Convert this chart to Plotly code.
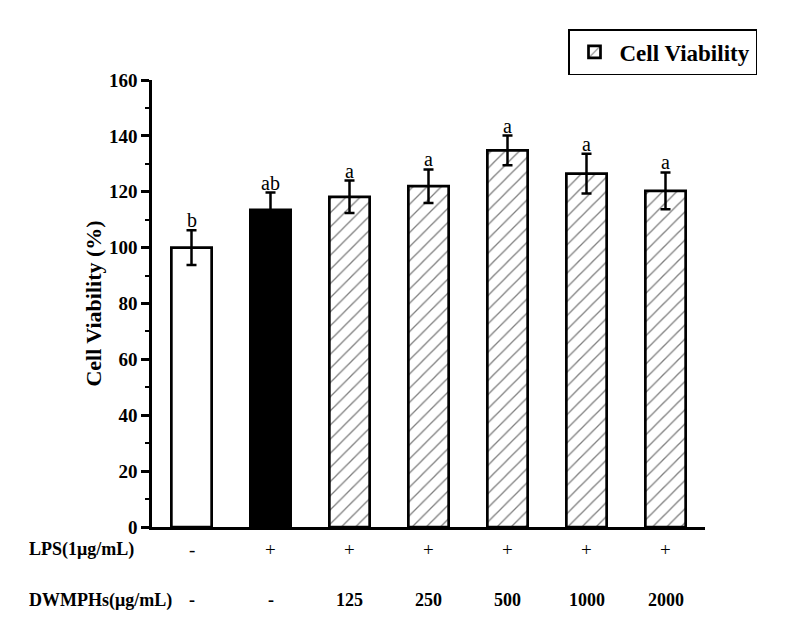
import plotly.graph_objects as go

# ---- data ----
groups = ["Control", "LPS", "125", "250", "500", "1000", "2000"]
viability = [100.0, 113.5, 118.2, 122.0, 134.8, 126.5, 120.3]
errors = [6.2, 6.2, 5.8, 6.0, 5.3, 7.1, 6.6]
sig_letters = ["b", "ab", "a", "a", "a", "a", "a"]
lps_labels = ["-", "+", "+", "+", "+", "+", "+"]
dose_labels = ["-", "-", "125", "250", "500", "1000", "2000"]
series_name = "Cell Viability"
y_ticks = [0, 20, 40, 60, 80, 100, 120, 140, 160]

idx = list(range(len(groups)))
SERIF = "Liberation Serif"

fig = go.Figure()

err_style = dict(type="data", visible=True, color="black", thickness=2.5, width=5)
line_style = dict(color="black", width=2.7)

fig.add_trace(go.Bar(
    x=idx[0:1], y=viability[0:1],
    error_y=dict(array=errors[0:1], **err_style),
    marker=dict(color="white", line=line_style),
    width=0.51, showlegend=False, name="Control"))
fig.add_trace(go.Bar(
    x=idx[1:2], y=viability[1:2],
    error_y=dict(array=errors[1:2], **err_style),
    marker=dict(color="black", line=line_style),
    width=0.51, showlegend=False, name="LPS"))
fig.add_trace(go.Bar(
    x=idx[2:], y=viability[2:],
    error_y=dict(array=errors[2:], **err_style),
    marker=dict(color="white", line=line_style,
                pattern=dict(shape="/", fgcolor="black", bgcolor="white",
                             size=10, solidity=0.13)),
    width=0.51, showlegend=True, name=series_name))

PLOT_L, PLOT_R, PLOT_T, PLOT_B = 152, 705, 80, 527
def py_to_paper(py):
    return (PLOT_B - py) / (PLOT_B - PLOT_T)
def px_to_paper(px):
    return (px - PLOT_L) / (PLOT_R - PLOT_L)

annotations = []
for i, (v, e, s) in enumerate(zip(viability, errors, sig_letters)):
    annotations.append(dict(x=i, y=v + e, xref="x", yref="y", text=s,
                            showarrow=False, yanchor="bottom", yshift=-3,
                            font=dict(family=SERIF, size=20, color="black")))
for i, t in enumerate(lps_labels):
    annotations.append(dict(x=i, y=py_to_paper(549), xref="x", yref="paper", text=t,
                            showarrow=False, yanchor="middle",
                            font=dict(family=SERIF, size=19, color="black")))
for i, t in enumerate(dose_labels):
    annotations.append(dict(x=i, y=py_to_paper(600), xref="x", yref="paper", text="<b>" + t + "</b>",
                            showarrow=False, yanchor="middle",
                            font=dict(family=SERIF, size=18, color="black")))
annotations.append(dict(x=px_to_paper(27), y=py_to_paper(549), xref="paper", yref="paper",
                        text="<b>LPS(1μg/mL)</b>", showarrow=False, xanchor="left", yanchor="middle",
                        font=dict(family=SERIF, size=18, color="black")))
annotations.append(dict(x=px_to_paper(27), y=py_to_paper(600), xref="paper", yref="paper",
                        text="<b>DWMPHs(μg/mL)</b>", showarrow=False, xanchor="left", yanchor="middle",
                        font=dict(family=SERIF, size=18, color="black")))

fig.update_layout(
    width=802, height=621,
    margin=dict(l=PLOT_L, r=802 - PLOT_R, t=PLOT_T, b=621 - PLOT_B, autoexpand=False),
    paper_bgcolor="white", plot_bgcolor="white",
    barmode="overlay",
    font=dict(family=SERIF, color="black"),
    showlegend=True,
    legend=dict(x=px_to_paper(568), y=py_to_paper(29), xanchor="left", yanchor="top",
                bordercolor="black", borderwidth=1.5, bgcolor="white",
                font=dict(family=SERIF, size=23, color="black", weight="bold"),
                itemwidth=40),
    annotations=annotations,
    xaxis=dict(range=[-0.5, 6.5], showline=True, linecolor="black", linewidth=2.5,
               showticklabels=False, ticks="", showgrid=False, zeroline=False),
    yaxis=dict(range=[0, 160], tickvals=y_ticks, showline=True, linecolor="black",
               linewidth=2.5, ticks="outside", ticklen=8, tickwidth=2.5, tickcolor="black",
               showgrid=False, zeroline=False,
               tickfont=dict(family=SERIF, size=19, color="black", weight="bold"),
               minor=dict(dtick=10, ticks="outside", ticklen=4, tickwidth=2, tickcolor="black"),
               title=dict(text="<b>Cell Viability (%)</b>", standoff=2,
                          font=dict(family=SERIF, size=22, color="black"))),
)

fig.write_html("out.html", config={"displayModeBar": False},
               post_script="document.body.style.margin='0';document.body.style.overflow='hidden';")
